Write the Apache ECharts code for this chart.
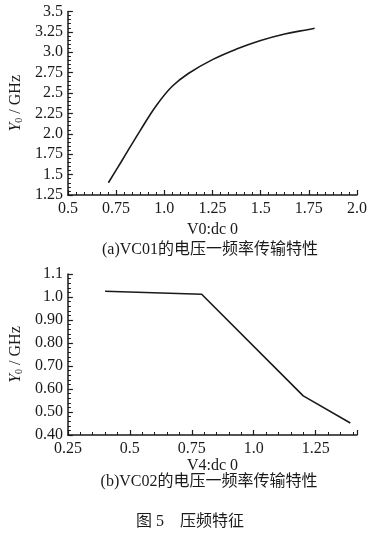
<!DOCTYPE html>
<html><head><meta charset="utf-8">
<script src="https://cdn.jsdelivr.net/npm/echarts@6/dist/echarts.min.js"></script>
<style>html,body{margin:0;padding:0;background:#fff}#c{width:373px;height:538px}</style>
</head><body><div id="c"></div>
<script>
// Chart (a) VC01
const a_x = [0.71, 0.78, 0.875, 0.96, 1.04, 1.125, 1.25, 1.375, 1.5, 1.625, 1.75, 1.78];
const a_y = [1.40, 1.67, 2.04, 2.35, 2.58, 2.74, 2.91, 3.04, 3.145, 3.225, 3.28, 3.295];
const a_xTicks = ['0.5','0.75','1.0','1.25','1.5','1.75','2.0'];
const a_yTicks = ['1.25','1.5','1.75','2.0','2.25','2.5','2.75','3.0','3.25','3.5'];
// Chart (b) VC02
const b_x = [0.40, 0.79, 1.20, 1.39];
const b_y = [1.025, 1.012, 0.57, 0.452];
const b_xTicks = ['0.25','0.5','0.75','1.0','1.25'];
const b_yTicks = ['0.40','0.50','0.60','0.70','0.80','0.90','1.0','1.1'];
const captionA = '(a)VC01的电压一频率传输特性';
const captionB = '(b)VC02的电压一频率传输特性';
const figCaption = '图 5    压频特征';

const serif = '"Liberation Serif", "DejaVu Serif", serif';
const cjk = '"Liberation Serif", "Noto Sans CJK SC", serif';
const ink = '#1a1a1a';

function lab(arr, min, step) {
  return function (v) {
    const i = Math.round((v - min) / step);
    if (Math.abs(v - (min + i * step)) > 1e-6) return '';
    return arr[i] !== undefined ? arr[i] : '';
  };
}
function xAxisCfg(idx, min, max, step, ticks, name, split, gap) {
  return {
    type: 'value', gridIndex: idx, min: min, max: max, interval: step,
    name: name, nameLocation: 'middle', nameGap: gap,
    nameTextStyle: {fontFamily: serif, fontSize: 16, color: ink},
    axisLine: {show: true, lineStyle: {color: ink, width: 1.5}},
    axisTick: {show: true, inside: true, length: 5, lineStyle: {color: ink, width: 1.2}},
    minorTick: {show: true, splitNumber: split, length: 3, lineStyle: {color: ink, width: 1}},
    axisLabel: {formatter: lab(ticks, min, step), fontFamily: serif, fontSize: 16, color: ink, margin: 6},
    splitLine: {show: false}
  };
}
function yAxisCfg(idx, min, max, step, ticks, split, gap) {
  return {
    type: 'value', gridIndex: idx, min: min, max: max, interval: step,
    name: '{i|Y}{s|0}{n| / GHz}', nameLocation: 'middle', nameGap: gap, nameRotate: 90,
    nameTextStyle: {
      fontFamily: serif, fontSize: 16, color: ink,
      rich: {
        i: {fontFamily: serif, fontSize: 16, fontStyle: 'italic', color: ink},
        s: {fontFamily: serif, fontSize: 10, color: ink, verticalAlign: 'bottom', padding: [6, 0, 0, 0]},
        n: {fontFamily: serif, fontSize: 16, color: ink}
      }
    },
    axisLine: {show: true, lineStyle: {color: ink, width: 1.5}},
    axisTick: {show: true, inside: true, length: 5, lineStyle: {color: ink, width: 1.2}},
    minorTick: {show: true, splitNumber: split, length: 3, lineStyle: {color: ink, width: 1}},
    axisLabel: {formatter: lab(ticks, min, step), fontFamily: serif, fontSize: 16, color: ink, margin: 5},
    splitLine: {show: false}
  };
}

const chart = echarts.init(document.getElementById('c'), null, {renderer: 'canvas'});
chart.setOption({
  backgroundColor: '#ffffff',
  animation: false,
  grid: [
    {left: 66, right: 16, top: 11.5, height: 183.5},
    {left: 63, right: 16, top: 274, height: 161}
  ],
  xAxis: [
    xAxisCfg(0, 0.5, 2.0, 0.25, a_xTicks, 'V0:dc 0', 6, 27),
    xAxisCfg(1, 0.25, 1.417, 0.25, b_xTicks, 'V4:dc 0', 5, 21)
  ],
  yAxis: [
    yAxisCfg(0, 1.25, 3.5, 0.25, a_yTicks, 5, 42),
    yAxisCfg(1, 0.4, 1.1, 0.1, b_yTicks, 5, 40)
  ],
  series: [
    {type: 'line', xAxisIndex: 0, yAxisIndex: 0, smooth: 0.4, symbol: 'none',
     lineStyle: {color: ink, width: 1.6},
     data: a_x.map((x, i) => [x, a_y[i]])},
    {type: 'line', xAxisIndex: 1, yAxisIndex: 1, smooth: false, symbol: 'none',
     lineStyle: {color: ink, width: 1.6},
     data: b_x.map((x, i) => [x, b_y[i]])}
  ],
  graphic: [
    {type: 'text', style: {text: captionA, x: 210, y: 250, align: 'center', verticalAlign: 'middle', font: '16px ' + cjk, fill: ink}},
    {type: 'text', style: {text: captionB, x: 209, y: 482, align: 'center', verticalAlign: 'middle', font: '16px ' + cjk, fill: ink}},
    {type: 'text', style: {text: figCaption, x: 190, y: 522, align: 'center', verticalAlign: 'middle', font: '16px ' + cjk, fill: ink}}
  ]
});
</script></body></html>
